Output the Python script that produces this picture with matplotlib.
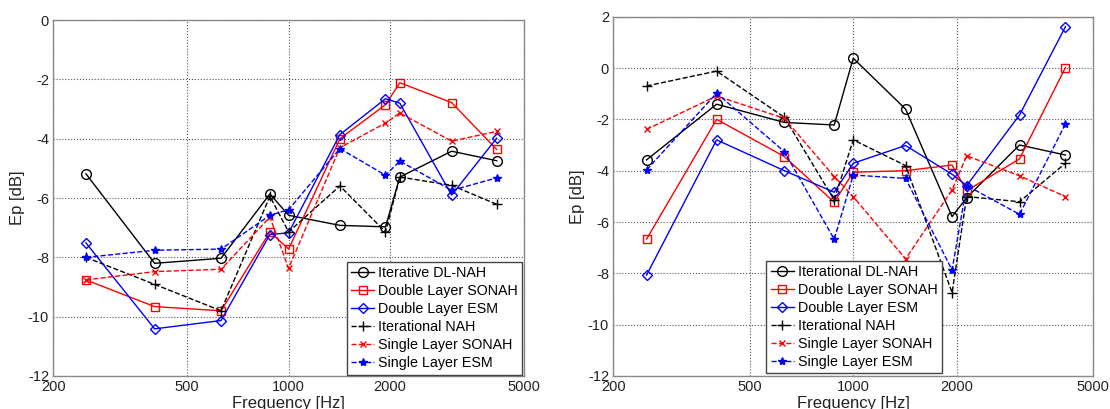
import matplotlib
matplotlib.use("Agg")
import matplotlib.pyplot as plt
from matplotlib.ticker import FixedLocator, FixedFormatter, NullLocator

plt.rcParams['font.family'] = ['Liberation Sans', 'DejaVu Sans']

freqs = [250, 400, 630, 880, 1000, 1420, 1940, 2140, 3050, 4150]

# Left panel
left_iter_dlnah = [-5.18, -8.20, -8.03, -5.86, -6.58, -6.92, -6.97, -5.29, -4.42, -4.74]
left_dl_sonah = [-8.76, -9.66, -9.80, -7.14, -7.72, -4.00, -2.85, -2.11, -2.78, -4.36]
left_dl_esm = [-7.51, -10.41, -10.13, -7.23, -7.17, -3.86, -2.65, -2.80, -5.90, -3.98]
left_iter_nah = [-8.00, -8.91, -9.80, -5.94, -7.14, -5.59, -7.14, -5.29, -5.57, -6.21]
left_sl_sonah = [-8.76, -8.48, -8.40, -6.64, -8.37, -4.30, -3.47, -3.13, -4.08, -3.75]
left_sl_esm = [-8.00, -7.76, -7.72, -6.58, -6.39, -4.33, -5.23, -4.75, -5.74, -5.32]

# Right panel
right_iter_dlnah = [-3.58, -1.41, -2.12, -2.22, 0.38, -1.60, -5.79, -5.05, -3.00, -3.39]
right_dl_sonah = [-6.67, -2.00, -3.45, -5.23, -4.06, -4.00, -3.78, -4.78, -3.54, 0.02]
right_dl_esm = [-8.07, -2.80, -4.00, -4.84, -3.71, -3.02, -4.14, -4.58, -1.83, 1.61]
right_iter_nah = [-0.70, -0.12, -1.92, -5.14, -2.80, -3.80, -8.75, -5.01, -5.21, -3.71]
right_sl_sonah = [-2.39, -1.09, -1.96, -4.23, -5.01, -7.44, -4.75, -3.42, -4.20, -5.01]
right_sl_esm = [-3.97, -0.98, -3.26, -6.67, -4.17, -4.30, -7.87, -4.58, -5.70, -2.18]

left_labels = ['Iterative DL-NAH', 'Double Layer SONAH', 'Double Layer ESM',
               'Iterational NAH', 'Single Layer SONAH', 'Single Layer ESM']
right_labels = ['Iterational DL-NAH', 'Double Layer SONAH', 'Double Layer ESM',
                'Iterational NAH', 'Single Layer SONAH', 'Single Layer ESM']

xticks = [200, 500, 1000, 2000, 5000]
xtick_labels = ['200', '500', '1000', '2000', '5000']

styles = [
    dict(color='black', linestyle='-', marker='o', markerfacecolor='none', markersize=7),
    dict(color='red', linestyle='-', marker='s', markerfacecolor='none', markersize=6),
    dict(color='blue', linestyle='-', marker='D', markerfacecolor='none', markersize=5.5),
    dict(color='black', linestyle='--', marker='+', markersize=7),
    dict(color='red', linestyle='--', marker='x', markersize=4.5),
    dict(color='blue', linestyle='--', marker='*', markersize=6),
]

fig = plt.figure(figsize=(11.10, 4.09), dpi=100)
axL = fig.add_axes([0.048, 0.0807, 0.424, 0.870])
axR = fig.add_axes([0.5525, 0.0807, 0.4324, 0.8785])

def setup(ax, ylim, yticks, series, labels, legend_kwargs):
    for vals, st, lab in zip(series, styles, labels):
        ax.plot(freqs, vals, label=lab, linewidth=1.0, markeredgewidth=1.0, **st)
    ax.set_xscale('log')
    ax.set_xlim(200, 5000)
    ax.set_ylim(*ylim)
    ax.xaxis.set_major_locator(FixedLocator(xticks))
    ax.xaxis.set_major_formatter(FixedFormatter(xtick_labels))
    ax.xaxis.set_minor_locator(NullLocator())
    ax.set_yticks(yticks)
    ax.set_yticklabels([str(t) for t in yticks])
    ax.grid(True, which='major', linestyle=':', color='#555555', linewidth=0.8)
    ax.tick_params(axis='both', direction='in', length=0, labelsize=10.5, colors='#222222', pad=3)
    for sp in ax.spines.values():
        sp.set_color('#888888')
        sp.set_linewidth(1.0)
    ax.set_xlabel('Frequency [Hz]', fontsize=12, labelpad=1, color='#222222')
    ax.set_ylabel('Ep [dB]', fontsize=12, labelpad=2, color='#222222')
    leg = ax.legend(fontsize=10.3, frameon=True, fancybox=False, framealpha=1,
                    edgecolor='#444444', handlelength=1.6, handletextpad=0.3,
                    labelspacing=0.28, borderpad=0.3, borderaxespad=0.1, **legend_kwargs)
    leg.get_frame().set_linewidth(1.0)

setup(axL, (-12, 0), list(range(-12, 1, 2)),
      [left_iter_dlnah, left_dl_sonah, left_dl_esm, left_iter_nah, left_sl_sonah, left_sl_esm],
      left_labels, dict(loc='lower right'))
setup(axR, (-12, 2), list(range(-12, 3, 2)),
      [right_iter_dlnah, right_dl_sonah, right_dl_esm, right_iter_nah, right_sl_sonah, right_sl_esm],
      right_labels, dict(loc='lower left', bbox_to_anchor=(0.316, 0.003)))

fig.savefig('out.png', dpi=100)
